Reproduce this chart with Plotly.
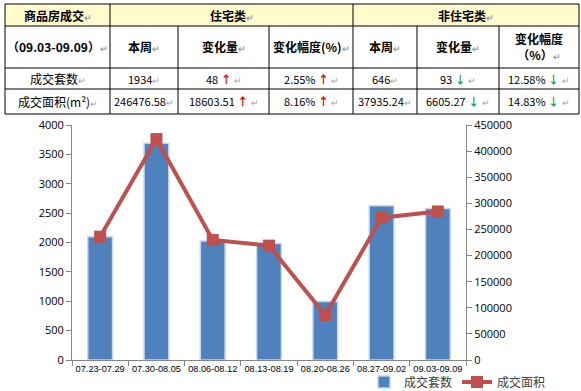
import plotly.graph_objects as go

# ---------------- data ----------------
weeks = ["07.23-07.29", "07.30-08.05", "08.06-08.12", "08.13-08.19",
         "08.20-08.26", "08.27-09.02", "09.03-09.09"]
units_sold = [2100, 3690, 2025, 1985, 995, 2625, 2580]          # 成交套数
area_sold = [236000, 423000, 230000, 219000, 86000, 272414, 284412]  # 成交面积

table_header_1 = ["商品房成交", "住宅类", "非住宅类"]
table_header_2 = ["（09.03-09.09）", "本周", "变化量", "变化幅度(%)",
                  "本周", "变化量", "变化幅度<br>（%）"]
row_labels = ["成交套数", "成交面积(m²)"]
res_this_week = ["1934", "246476.58"]
res_change = ["48", "18603.51"]
res_change_pct = ["2.55%", "8.16%"]
res_dir = ["up", "up"]
non_this_week = ["646", "37935.24"]
non_change = ["93", "6605.27"]
non_change_pct = ["12.58%", "14.83%"]
non_dir = ["down", "down"]

# ---------------- geometry helpers (pixel -> paper) ----------------
W, H = 581, 391
PL, PR, PT, PB = 72, 466, 125, 360


def px(x):
    return (x - PL) / (PR - PL)


def py(y):
    return (PB - y) / (PB - PT)


fig = go.Figure()
fig.add_trace(go.Bar(
    x=weeks, y=units_sold, name="成交套数",
    marker=dict(color="#4F81BD", line=dict(color="#C6D6EA", width=1.5)),
    width=0.44, yaxis="y"))
fig.add_trace(go.Scatter(
    x=weeks, y=area_sold, name="成交面积", yaxis="y2",
    mode="lines+markers",
    line=dict(color="#C0504D", width=4),
    marker=dict(symbol="square", size=12, color="#C0504D")))

axis_font = dict(family="Open Sans, Liberation Sans, sans-serif", size=11, color="#000")
fig.update_layout(
    width=W, height=H,
    margin=dict(l=PL, r=W - PR, t=PT, b=H - PB, pad=0, autoexpand=False),
    paper_bgcolor="white", plot_bgcolor="white",
    showlegend=True,
    legend=dict(orientation="h", x=px(364), y=py(382), xanchor="left", yanchor="middle",
                font=dict(family="Noto Sans CJK SC", size=12, color="#404040"),
                itemwidth=30, bgcolor="rgba(0,0,0,0)", tracegroupgap=0),
    xaxis=dict(type="category", showline=True, linecolor="#868686", linewidth=1,
               ticks="outside", tickson="boundaries", ticklen=5, tickcolor="#868686",
               tickfont=dict(family="Liberation Sans, Arial, sans-serif", size=9.2, color="#000"),
               showgrid=False, tickangle=0, automargin=False),
    yaxis=dict(range=[0, 4000], dtick=500, showline=True, linecolor="#868686",
               ticks="outside", ticklen=5, tickcolor="#868686", tickfont=axis_font,
               showgrid=False, zeroline=False, tickformat="d", automargin=False),
    yaxis2=dict(range=[0, 450000], dtick=50000, overlaying="y", side="right",
                showline=True, linecolor="#868686", ticks="outside", ticklen=5,
                tickcolor="#868686", tickfont=axis_font, showgrid=False,
                zeroline=False, tickformat="d", automargin=False),
    bargap=0.5,
)

# ---------------- table ----------------
shapes = []
top, r1, r2, r3, bot = 4, 26, 68, 89, 114
xl, xr = 5, 579
cols = [5, 110, 178, 269, 353, 417, 499, 579]

shapes.append(dict(type="rect", xref="paper", yref="paper",
                   x0=px(xl), x1=px(xr), y0=py(top), y1=py(r1),
                   fillcolor="#FFFBCC", line=dict(width=0), layer="below"))
line_style = dict(color="black", width=1)
for yy in [top, r1, r2, r3, bot]:
    shapes.append(dict(type="line", xref="paper", yref="paper",
                       x0=px(xl), x1=px(xr), y0=py(yy), y1=py(yy), line=line_style))
for xx in cols:
    y0 = top if xx in (5, 110, 353, 579) else r1
    shapes.append(dict(type="line", xref="paper", yref="paper",
                       x0=px(xx), x1=px(xx), y0=py(y0), y1=py(bot), line=line_style))
fig.update_layout(shapes=shapes)

PM = "<span style='color:#A0A0A0;font-size:9px'>↵</span>"
UP = "<b><span style='color:#E00000'>↑</span></b>"
DN = "<b><span style='color:#1E9E4A'>↓</span></b>"
cjk = "Noto Sans CJK SC"


def ann(x, y, text, size=11, bold=False):
    t = f"<b>{text}</b>" if bold else text
    fig.add_annotation(x=px(x), y=py(y), xref="paper", yref="paper", text=t,
                       showarrow=False, xanchor="center", yanchor="middle",
                       font=dict(family=cjk, size=size, color="black"))


centers = [(cols[i] + cols[i + 1]) / 2 for i in range(7)]
ymid1, ymid2, ymid3, ymid4 = (top + r1) / 2, (r1 + r2) / 2, (r2 + r3) / 2, (r3 + bot) / 2

ann(centers[0], ymid1, table_header_1[0] + PM, 12, True)
ann((cols[1] + cols[4]) / 2, ymid1, table_header_1[1] + PM, 12, True)
ann((cols[4] + cols[7]) / 2, ymid1, table_header_1[2] + PM, 12, True)

for i, h in enumerate(table_header_2):
    ann(centers[i], ymid2, h + PM, 12, True)

for r, yy in enumerate([ymid3, ymid4]):
    ann(centers[0], yy, row_labels[r] + PM, 12)
    ann(centers[1], yy, res_this_week[r] + PM)
    ann(centers[2], yy, res_change[r] + " " + (UP if res_dir[r] == "up" else DN) + " " + PM)
    ann(centers[3], yy, res_change_pct[r] + " " + (UP if res_dir[r] == "up" else DN) + " " + PM)
    ann(centers[4], yy, non_this_week[r] + PM)
    ann(centers[5], yy, non_change[r] + " " + (UP if non_dir[r] == "up" else DN) + " " + PM)
    ann(centers[6], yy, non_change_pct[r] + " " + (UP if non_dir[r] == "up" else DN) + " " + PM)

fig.write_html("out.html", config={"displayModeBar": False},
               post_script="document.body.style.margin='0px';")
